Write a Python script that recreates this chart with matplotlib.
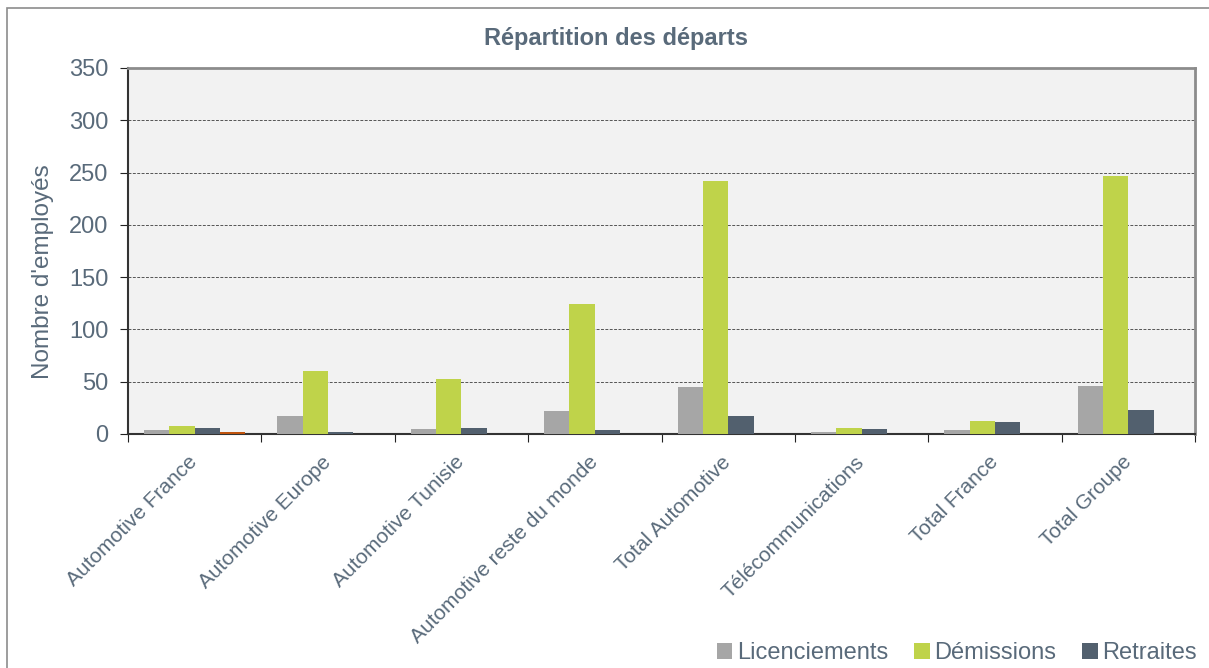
import matplotlib
matplotlib.use("Agg")
import matplotlib.pyplot as plt
import numpy as np
from matplotlib.patches import Rectangle

categories = ["Automotive France", "Automotive Europe", "Automotive Tunisie",
              "Automotive reste du monde", "Total Automotive", "Télécommunications",
              "Total France", "Total Groupe"]
licenciements = [4, 17, 5, 22, 45, 2, 4, 46]
demissions = [8, 60, 53, 124, 242, 6, 12, 247]
retraites = [6, 2, 6, 4, 17, 5, 11, 23]
autres = [1.5, None, None, None, None, None, None, None]
series_names = ["Licenciements", "Démissions", "Retraites"]
yticks = [0, 50, 100, 150, 200, 250, 300, 350]

plt.rcParams['font.family'] = ['Liberation Sans', 'DejaVu Sans']
txt = '#596A7A'

fig = plt.figure(figsize=(12.09, 6.68), dpi=100)
# outer frame (cropped on right / bottom)
fig.patches.append(Rectangle((7/1209, -0.1), 1.2, (1 - 8/668) + 0.1, transform=fig.transFigure,
                             fill=False, edgecolor='#8C8C8C', linewidth=1.2))

ax = fig.add_axes([128/1209, 1 - 434/668, (1195 - 128)/1209, (434 - 68)/668])
ax.set_facecolor('#F2F2F2')

x = np.arange(len(categories))
w = 0.19
cols = ['#A6A6A6', '#BFD34A', '#52606E', '#C0540E']
data = [licenciements, demissions, retraites, autres]
labels = series_names + ['_nolegend_']
for i, (vals, c, lab) in enumerate(zip(data, cols, labels)):
    v = np.array([np.nan if a is None else a for a in vals], dtype=float)
    ax.bar(x + (i - 1.5) * w, v, width=w, color=c, label=lab, zorder=3,
           edgecolor='none')

ax.set_xlim(-0.5, len(categories) - 0.5)
ax.set_ylim(0, 350)
ax.set_yticks(yticks)
ax.set_yticklabels([str(v) for v in yticks], fontsize=17, color=txt)
ax.yaxis.grid(False)
for yv in [50, 100, 150, 200, 250, 300]:
    ax.axhline(yv, linestyle=(0, (3, 1.5)), color='#555555', linewidth=0.7, zorder=1)

ax.set_xticks(np.arange(len(categories) + 1) - 0.5, minor=False)
ax.set_xticklabels([])
ax.set_xticks(x, minor=True)
ax.set_xticklabels(categories, minor=True, rotation=45, ha='right', va='center',
                   rotation_mode='anchor', fontsize=15, color=txt)
ax.tick_params(axis='x', which='minor', length=0, pad=18)
ax.tick_params(axis='x', which='major', length=6, direction='out', color='#222222')
ax.tick_params(axis='y', which='major', length=6, direction='out', color='#222222', pad=8)

for s in ['left', 'bottom']:
    ax.spines[s].set_color('#333333')
    ax.spines[s].set_linewidth(1.5)
for s in ['top', 'right']:
    ax.spines[s].set_color('#8C8C8C')
    ax.spines[s].set_linewidth(2)

ax.set_ylabel("Nombre d'employés", fontsize=17.5, color=txt)
ax.yaxis.set_label_coords(-0.069, 0.443)

fig.text(0.5 + 11/1209, 1 - 38/668, "Répartition des départs", ha='center', va='center',
         fontsize=17, fontweight='bold', color=txt)

handles, labs = ax.get_legend_handles_labels()
fig.legend(handles[:3], labs[:3], loc='lower right', bbox_to_anchor=(1197/1209, 4/668),
           ncol=3, frameon=False, fontsize=17, handlelength=0.65, handleheight=0.65,
           handletextpad=0.2, columnspacing=1.1, labelcolor=txt,
           borderpad=0, borderaxespad=0)

fig.savefig("out.png", dpi=100)
